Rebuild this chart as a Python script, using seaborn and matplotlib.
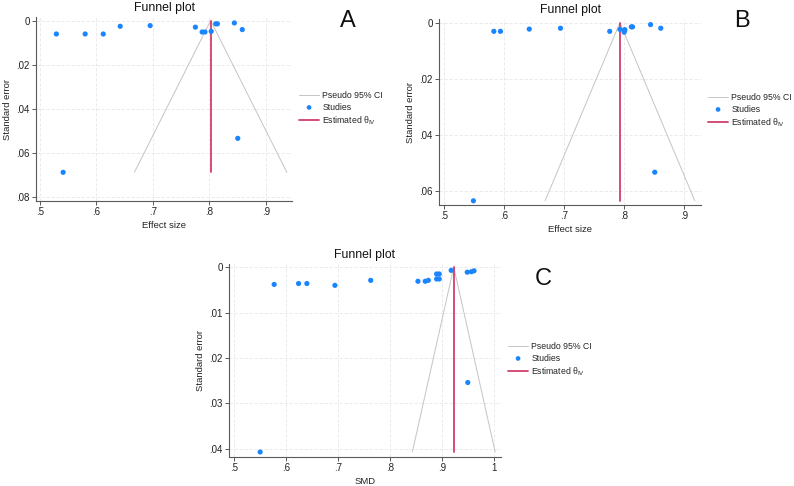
import numpy as np
import pandas as pd
import matplotlib
matplotlib.use("Agg")
import matplotlib.pyplot as plt
import seaborn as sns
from matplotlib.ticker import FuncFormatter

# ============================================================
# DATA
# ============================================================
# Panel A
a_es = [0.529, 0.580, 0.612, 0.642, 0.695, 0.775, 0.787, 0.792, 0.803,
        0.811, 0.814, 0.844, 0.858, 0.850, 0.541]
a_se = [0.0061, 0.0061, 0.0061, 0.0026, 0.0023, 0.0030, 0.0052, 0.0052,
        0.0049, 0.0015, 0.0015, 0.0011, 0.0041, 0.0534, 0.0688]
a_theta = 0.802

# Panel B
b_es = [0.583, 0.594, 0.642, 0.694, 0.776, 0.793, 0.801, 0.800, 0.801,
        0.812, 0.814, 0.844, 0.861, 0.851, 0.549]
b_se = [0.0031, 0.0031, 0.0023, 0.0020, 0.0031, 0.0024, 0.0027, 0.0034,
        0.0025, 0.0015, 0.0015, 0.0007, 0.0020, 0.0534, 0.0636]
b_theta = 0.793

# Panel C
c_es = [0.577, 0.624, 0.640, 0.694, 0.763, 0.854, 0.868, 0.874, 0.890,
        0.895, 0.890, 0.895, 0.918, 0.949, 0.957, 0.962, 0.950, 0.550]
c_se = [0.0038, 0.0036, 0.0036, 0.0040, 0.0029, 0.0031, 0.0031, 0.0029,
        0.0026, 0.0026, 0.0015, 0.0015, 0.0007, 0.0011, 0.0010, 0.0008,
        0.0254, 0.0407]
c_theta = 0.923

a_xticks = [0.5, 0.6, 0.7, 0.8, 0.9]
a_yticks = [0, 0.02, 0.04, 0.06, 0.08]
b_xticks = [0.5, 0.6, 0.7, 0.8, 0.9]
b_yticks = [0, 0.02, 0.04, 0.06]
c_xticks = [0.5, 0.6, 0.7, 0.8, 0.9, 1.0]
c_yticks = [0, 0.01, 0.02, 0.03, 0.04]

legend_labels = ["Pseudo 95% CI", "Studies", r"Estimated $\mathregular{\theta_{IV}}$"]

# ============================================================
# STYLE
# ============================================================
sns.set_theme(style="white")
plt.rcParams["font.family"] = ["Liberation Sans", "DejaVu Sans"]
plt.rcParams["mathtext.fontset"] = "custom"
plt.rcParams["mathtext.rm"] = "Liberation Sans"
plt.rcParams["mathtext.it"] = "Liberation Sans:italic"

BLUE = "#1a85ff"
RED = "#d0406a"
CI_GREY = "#c4c4c4"
AX_GREY = "#5a5a5a"
W, H = 794, 486


def stata_fmt(v, pos):
    s = f"{v:.2f}".rstrip("0").rstrip(".")
    if s.startswith("0."):
        s = s[1:]
    if s == "-0":
        s = "0"
    return s


def funnel(ax, es, se, theta, xlabel, xticks, yticks, xlim, ylim,
           leg_xy, letter, letter_xy):
    df = pd.DataFrame({"es": es, "se": se})
    smax = df["se"].max()
    # pseudo 95% CI
    ax.plot([theta - 1.96 * smax, theta, theta + 1.96 * smax], [smax, 0, smax],
            color=CI_GREY, lw=0.7, label=legend_labels[0], zorder=2)
    sns.scatterplot(data=df, x="es", y="se", ax=ax, color=BLUE, s=14,
                    edgecolor="none", label=legend_labels[1], zorder=4)
    ax.plot([theta, theta], [0, smax], color=RED, lw=1.3,
            label=legend_labels[2], zorder=3)

    ax.set_xlim(*xlim)
    ax.set_ylim(*ylim)
    ax.set_xticks(xticks)
    ax.set_yticks(yticks)
    ax.xaxis.set_major_formatter(FuncFormatter(stata_fmt))
    ax.yaxis.set_major_formatter(FuncFormatter(stata_fmt))
    ax.grid(True, color="#e8e8e8", lw=0.6, linestyle=(0, (4, 2)))
    ax.set_axisbelow(True)
    for sp in ["top", "right"]:
        ax.spines[sp].set_visible(False)
    for sp in ["left", "bottom"]:
        ax.spines[sp].set_color(AX_GREY)
        ax.spines[sp].set_linewidth(0.8)
    ax.tick_params(axis="both", which="both", direction="out", length=3,
                   width=0.7, color=AX_GREY, labelsize=7, pad=1.5,
                   labelcolor="#222222", left=True, bottom=True)
    ax.set_xlabel(xlabel, fontsize=6.8, color="#222222", labelpad=3)
    ax.set_ylabel("Standard error", fontsize=6.8, color="#222222", labelpad=3)
    ax.set_title("Funnel plot", fontsize=8.8, color="#111111", pad=4)

    handles, labels = ax.get_legend_handles_labels()
    order = [labels.index(l) for l in legend_labels]
    fig = ax.figure
    fig.legend([handles[i] for i in order], [labels[i] for i in order],
               loc="center left",
               bbox_to_anchor=(leg_xy[0] / W, 1 - leg_xy[1] / H),
               frameon=False, fontsize=6.3, handlelength=2.3,
               handletextpad=0.35, labelspacing=0.3, borderpad=0,
               borderaxespad=0, markerscale=0.9)
    if ax.get_legend():
        ax.get_legend().remove()
    fig.text(letter_xy[0] / W, 1 - letter_xy[1] / H, letter, fontsize=17,
             ha="center", va="center", color="#111111")


fig = plt.figure(figsize=(W / 100, H / 100), dpi=100)
fig.patch.set_facecolor("white")

ax_a = fig.add_axes([36 / W, 1 - 201 / H, 256 / W, 184 / H])
ax_b = fig.add_axes([439 / W, 1 - 205 / H, 262 / W, 186 / H])
ax_c = fig.add_axes([229 / W, 1 - 457 / H, 272 / W, 193 / H])

funnel(ax_a, a_es, a_se, a_theta, "Effect size", a_xticks, a_yticks,
       (0.493, 0.946), (0.0818, -0.0016), (299, 109), "A", (348, 21))
funnel(ax_b, b_es, b_se, b_theta, "Effect size", b_xticks, b_yticks,
       (0.4917, 0.928), (0.0651, -0.0013), (708, 111), "B", (742, 21))
funnel(ax_c, c_es, c_se, c_theta, "SMD", c_xticks, c_yticks,
       (0.490, 1.014), (0.0418, -0.0007), (508, 360), "C", (543, 279))

fig.savefig("out.png", dpi=100, facecolor="white")
